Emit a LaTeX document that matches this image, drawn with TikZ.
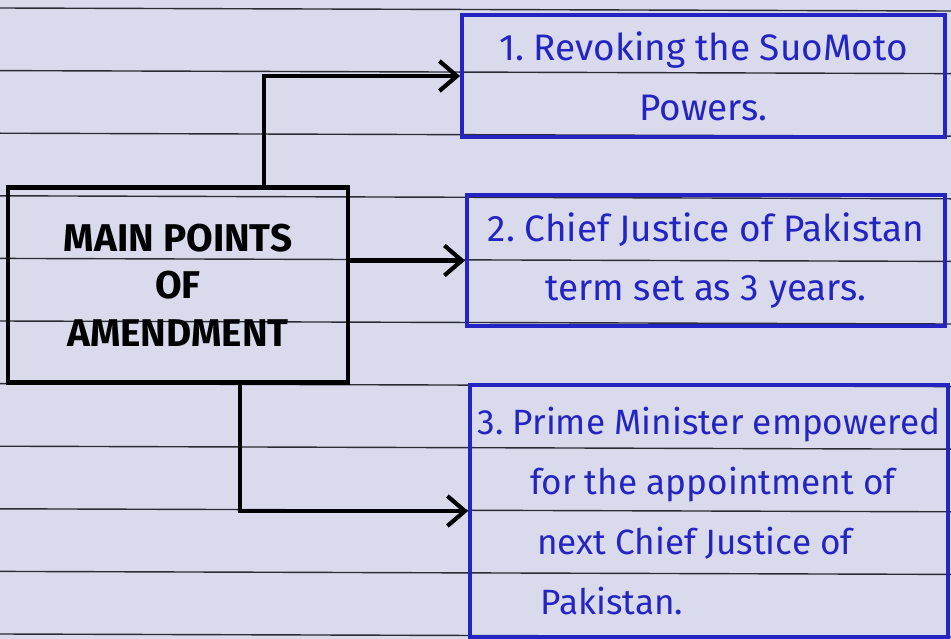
\documentclass[tikz,border=0pt]{standalone}
\usepackage{fontspec}
\setmainfont{Fira Sans}
\usetikzlibrary{positioning,arrows.meta,calc}
\definecolor{paperLilac}{HTML}{D9DAEC}
\definecolor{penBlue}{HTML}{2424C2}
\definecolor{ruleInk}{HTML}{2C2C36}

\begin{document}
\begin{tikzpicture}[x=0.02cm, y=-0.02cm, >={Straight Barb[length=3.5mm, width=6mm]},
      mainbox/.style={draw=black, line width=2.4pt, minimum width=6.8cm, minimum height=3.9cm, align=center, font=\fontsize{22}{27}\selectfont\bfseries},
      pointbox/.style={draw=penBlue, line width=2.2pt, text=penBlue, font=\fontsize{21}{34}\selectfont},
      link/.style={->, line width=2.4pt, line cap=round},
      ruling/.style={ruleInk, line width=0.8pt}]
    % ---- paper
    \useasboundingbox (0,0) rectangle (951,639);
    \fill[paperLilac] (0,0) rectangle (951,639);
    \foreach \k in {0,...,10} { \draw[ruling] (0,8+62.6*\k) -- (951,11+62.6*\k); }
    % ---- boxes
    \node[mainbox] (main) at (178,285) {MAIN POINTS\\OF\\AMENDMENT};
    \node[pointbox, minimum width=9.66cm, minimum height=2.44cm, align=center] (p1) at (703.5,76) {1.~Revoking the SuoMoto\\Powers.};
    \node[pointbox, minimum width=9.56cm, minimum height=2.62cm, align=center] (p2) at (706,260.5) {2.~Chief Justice of Pakistan\\term set as 3 years.};
    \node[pointbox, font=\fontsize{20}{34}\selectfont, minimum width=9.56cm, minimum height=5.04cm, align=left] (p3) at (709,511) {3.~Prime Minister empowered\\\hspace*{1.5em}for the appointment of\\\hspace*{1.7em}next Chief Justice of\\\hspace*{1.8em}Pakistan.};
    % ---- links
    \draw[link] ($(main.north west)!0.75!(main.north east)$) |- (p1.west);
    \draw[link] (main.east |- p2.west) -- (p2.west);
    \draw[link] ($(main.south west)!0.68!(main.south east)$) |- (p3.west);
  \end{tikzpicture}
\end{document}
